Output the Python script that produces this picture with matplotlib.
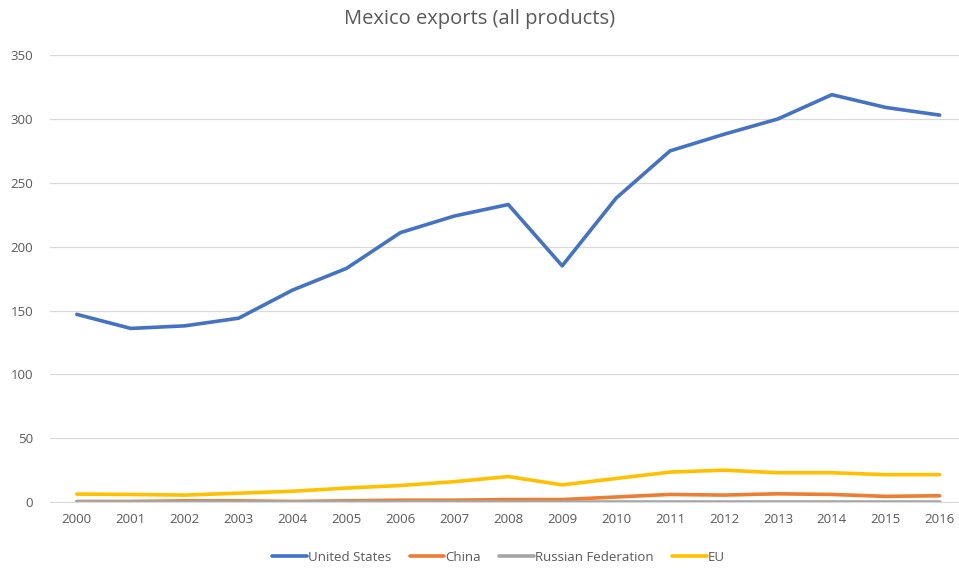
import matplotlib.pyplot as plt
import matplotlib
import numpy as np

matplotlib.rcParams['font.family'] = ['Open Sans', 'DejaVu Sans']

years = [str(y) for y in range(2000, 2017)]
united_states = [147, 136, 138, 144, 166, 183, 211, 224, 233, 185, 238, 275, 288, 300, 319, 309, 303]
china = [0.5, 0.5, 1, 1, 0.5, 1, 1.5, 1.5, 2, 2, 4, 6, 5.5, 6.5, 6, 4.5, 5]
russia = [0.3] * 17
eu = [6.3, 6, 5.5, 7, 8.5, 11, 13, 16, 20, 13.5, 18.5, 23.5, 25, 23, 23, 21.5, 21.5]

series = [
    ('United States', united_states, '#4472C4'),
    ('China', china, '#ED7D31'),
    ('Russian Federation', russia, '#A5A5A5'),
    ('EU', eu, '#FFC000'),
]

fig = plt.figure(figsize=(9.59, 5.68), dpi=100)
ax = fig.add_axes([0.052, 0.116, 0.956, 0.787])

x = np.arange(len(years))
for name, vals, color in series:
    ax.plot(x, vals, color=color, linewidth=2.6, label=name, solid_capstyle='round')

ax.set_xlim(-0.5, len(years) - 0.5)
ax.set_ylim(0, 350)
ax.set_yticks(range(0, 351, 50))
ax.set_xticks(x)
ax.set_xticklabels(years)
ax.grid(axis='y', color='#D9D9D9', linewidth=0.9)
ax.set_axisbelow(True)
for s in ['top', 'right', 'left']:
    ax.spines[s].set_visible(False)
ax.spines['bottom'].set_color('#D9D9D9')
ax.tick_params(axis='both', length=0, colors='#595959', labelsize=9.5)
ax.tick_params(axis='y', pad=12)
ax.tick_params(axis='x', pad=8)

fig.suptitle('Mexico exports (all products)', y=0.985, fontsize=14.5, color='#595959')
fig.legend(loc='center', bbox_to_anchor=(0.52, 0.019), ncol=4, frameon=False,
           fontsize=9.5, labelcolor='#595959', handlelength=2.6, handletextpad=0.1,
           columnspacing=1.4)

plt.savefig('out.png', dpi=100)
plt.close()
